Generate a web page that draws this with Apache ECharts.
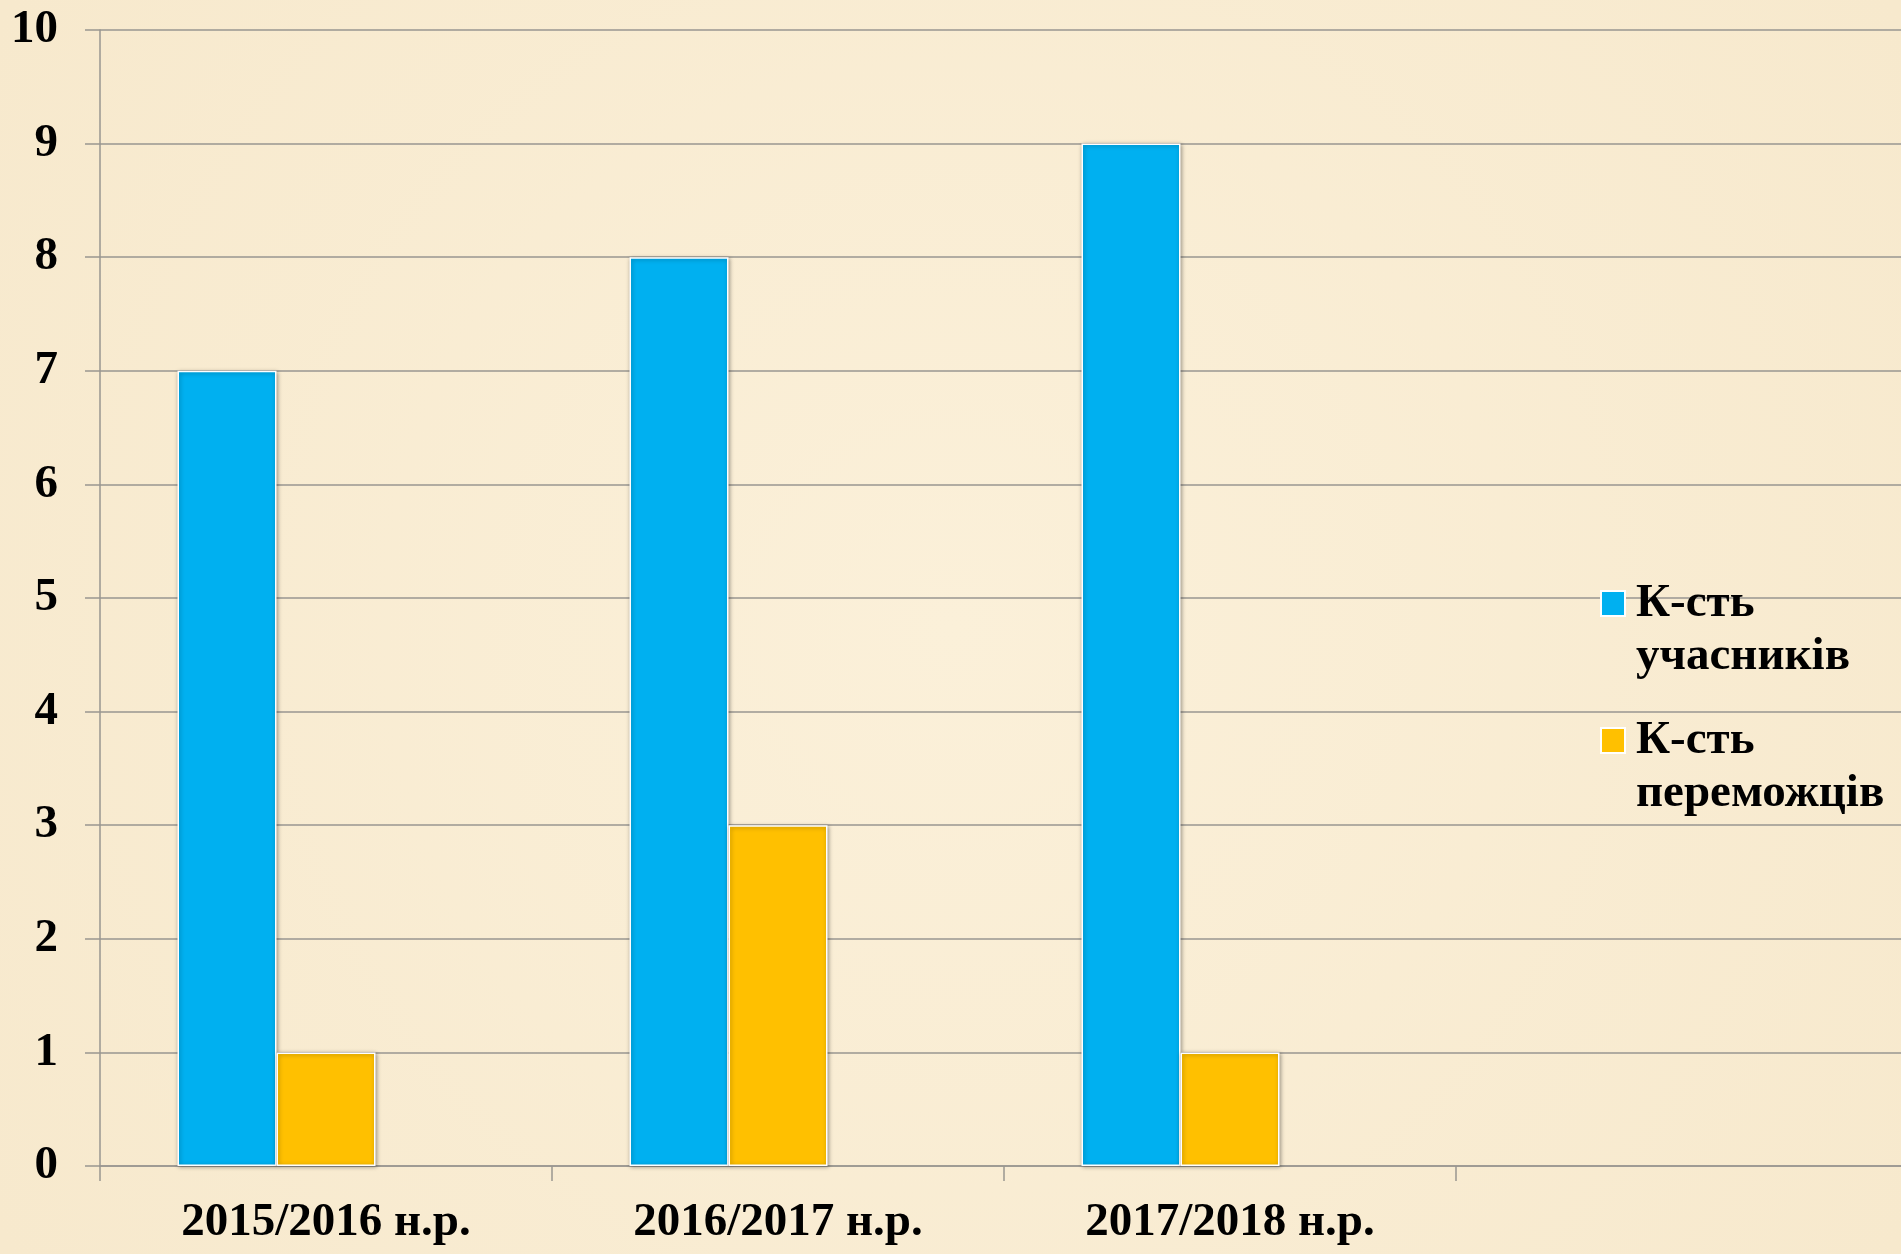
<!DOCTYPE html>
<html>
<head>
<meta charset="utf-8">
<script src="https://cdn.jsdelivr.net/npm/echarts@6/dist/echarts.min.js"></script>
<style>
html,body{margin:0;padding:0;background:#F9EDD4;}
#chart{width:1901px;height:1254px;}
</style>
</head>
<body>
<div id="chart"></div>
<script>
const categories = ['2015/2016 н.р.', '2016/2017 н.р.', '2017/2018 н.р.', ''];
const participants = [7, 8, 9];
const winners = [1, 3, 1];
const series3 = [null, null, null];
const yTicks = [0, 1, 2, 3, 4, 5, 6, 7, 8, 9, 10];
const seriesNames = ['К-сть учасників', 'К-сть переможців'];

const FONT = '"Liberation Serif", "Times New Roman", serif';
const gridColor = '#999690';

const chart = echarts.init(document.getElementById('chart'));
const barStyle = (c) => ({
  color: c,
  borderColor: '#ffffff',
  borderWidth: 1.5,
  shadowColor: 'rgba(0,0,0,0.35)',
  shadowBlur: 4,
  shadowOffsetX: 1,
  shadowOffsetY: 1
});
chart.setOption({
  backgroundColor: {
    type: 'radial', x: 0.5, y: 0.5, r: 0.9,
    colorStops: [{offset: 0, color: '#FBF0D9'}, {offset: 1, color: '#F7E9CD'}]
  },
  animation: false,
  grid: {left: 100, right: -7, top: 30, bottom: 88, outerBoundsMode: 'none'},
  legend: {
    data: seriesNames,
    orient: 'vertical',
    left: 1600,
    top: 524,
    padding: 0,
    itemGap: -22,
    itemWidth: 24,
    itemHeight: 25,
    icon: 'rect',
    formatter: (n) => '\n' + n.replace(' ', '\n'),
    textStyle: {
      fontFamily: FONT, fontWeight: 'bold', fontSize: 47, color: '#000',
      lineHeight: 53, padding: [0, 0, 0, 6]
    }
  },
  xAxis: {
    type: 'category',
    data: categories,
    axisLine: {lineStyle: {color: gridColor, width: 1.5}},
    axisTick: {show: true, length: 15, lineStyle: {color: gridColor, width: 1.5}},
    axisLabel: {fontFamily: FONT, fontWeight: 'bold', fontSize: 47, color: '#000', margin: 33, interval: 0}
  },
  yAxis: {
    type: 'value',
    min: 0, max: 10, interval: 1,
    axisLine: {show: true, lineStyle: {color: gridColor, width: 1.5}},
    axisTick: {show: true, length: 15, lineStyle: {color: gridColor, width: 1.5}},
    splitLine: {lineStyle: {color: gridColor, width: 1.5}},
    axisLabel: {
      fontFamily: FONT, fontWeight: 'bold', fontSize: 47, color: '#000', margin: 42,
      formatter: (v) => yTicks.includes(v) ? String(v) : ''
    }
  },
  series: [
    {name: seriesNames[0], type: 'bar', data: participants, barWidth: 99, barGap: '0%', itemStyle: barStyle('#00B0F0')},
    {name: seriesNames[1], type: 'bar', data: winners, barWidth: 99, barGap: '0%', itemStyle: barStyle('#FFC000')},
    {name: 'Ряд 3', type: 'bar', data: series3, barWidth: 99, barGap: '0%', itemStyle: barStyle('#92D050')}
  ]
});
</script>
</body>
</html>
